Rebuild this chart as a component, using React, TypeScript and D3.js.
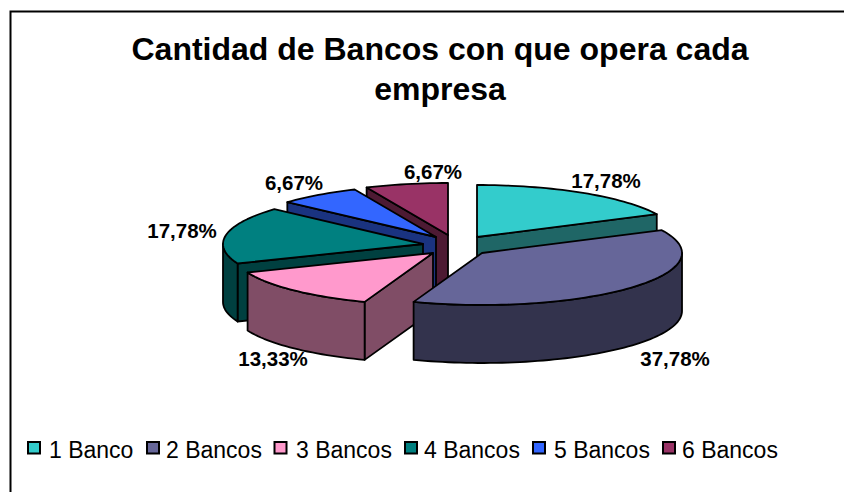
import React from "react";
import * as d3 from "d3";

const categories = ["1 Banco", "2 Bancos", "3 Bancos", "4 Bancos", "5 Bancos", "6 Bancos"];
const values = [17.78, 37.78, 13.33, 17.78, 6.67, 6.67];
const labels = ["17,78%", "37,78%", "13,33%", "17,78%", "6,67%", "6,67%"];
const topColors = ["#33CCCC", "#666699", "#FF99CC", "#008080", "#3366FF", "#993366"];
const sideColors = ["#1F6666", "#33334D", "#804D66", "#004040", "#1A3380", "#4D1A33"];

const W = 844, H = 492;
const RX = 200, RY = 52, DEPTH = 58;
// layout: apex of each exploded wedge, and label anchors
const apex: [number, number][] = [[477, 237], [482, 253], [433, 253], [423, 244], [436, 237], [448, 235]];
const labelPos: [number, number][] = [[606, 188], [675, 366], [273, 366], [182, 238], [294, 190], [433, 179]];
const paintOrder = [0, 5, 4, 3, 2, 1];
const legendSwatchX = [28, 147, 274.5, 405, 533, 663];
const legendTextX = [49, 166, 296, 424, 554, 682];

const pie = d3.pie<number>().sort(null).value((d) => d);
const arcs = pie(values);

function pt(a: [number, number], th: number, dy = 0): [number, number] {
  return [a[0] + RX * Math.sin(th), a[1] - RY * Math.cos(th) + dy];
}
function arcPts(a: [number, number], t0: number, t1: number, dy = 0) {
  const n = Math.max(2, Math.ceil(Math.abs(t1 - t0) / 0.03));
  return d3.range(n + 1).map((i) => pt(a, t0 + ((t1 - t0) * i) / n, dy));
}
const line = d3.line().curve(d3.curveLinear);

export default function App() {
  const faces: React.ReactNode[] = [];
  for (const i of paintOrder) {
    const a = apex[i];
    const { startAngle: s, endAngle: e } = arcs[i];
    const poly = (pts: [number, number][], fill: string, k: string) => (
      <path key={k} d={line(pts) + "Z"} fill={fill} stroke="#000" strokeWidth={1.8} strokeLinejoin="round" />
    );
    const radial = (th: number, k: string) => {
      const p = pt(a, th);
      return poly([a, p, [p[0], p[1] + DEPTH], [a[0], a[1] + DEPTH]], sideColors[i], k);
    };
    if (s > Math.PI && s < 2 * Math.PI) faces.push(radial(s, `s${i}`));
    if (e > 0 && e < Math.PI) faces.push(radial(e, `e${i}`));
    const w0 = Math.max(s, Math.PI / 2), w1 = Math.min(e, (3 * Math.PI) / 2);
    if (w1 > w0) {
      const topEdge = arcPts(a, w0, w1);
      const botEdge = arcPts(a, w1, w0, DEPTH);
      faces.push(poly([...topEdge, ...botEdge], sideColors[i], `w${i}`));
    }
    faces.push(poly([a, ...arcPts(a, s, e)], topColors[i], `t${i}`));
  }

  return (
    <svg width={W} height={H} style={{ position: "absolute", left: 0, top: 0, background: "#fff" }} fontFamily="'Liberation Sans', Arial, sans-serif">
      <path d={`M10.5 ${H}V11.5H${W}`} fill="none" stroke="#000" strokeWidth={2} />
      <text x={440} y={60} textAnchor="middle" fontSize={32} fontWeight="bold">Cantidad de Bancos con que opera cada</text>
      <text x={440} y={100} textAnchor="middle" fontSize={32} fontWeight="bold">empresa</text>
      {faces}
      {labels.map((t, i) => (
        <text key={t + i} x={labelPos[i][0]} y={labelPos[i][1]} textAnchor="middle" fontSize={20.5} fontWeight="bold">{t}</text>
      ))}
      {categories.map((c, i) => (
        <g key={c}>
          <rect x={legendSwatchX[i]} y={442} width={12} height={11.5} fill={topColors[i]} stroke="#000" strokeWidth={2} />
          <text x={legendTextX[i]} y={458} fontSize={23}>{c}</text>
        </g>
      ))}
    </svg>
  );
}
